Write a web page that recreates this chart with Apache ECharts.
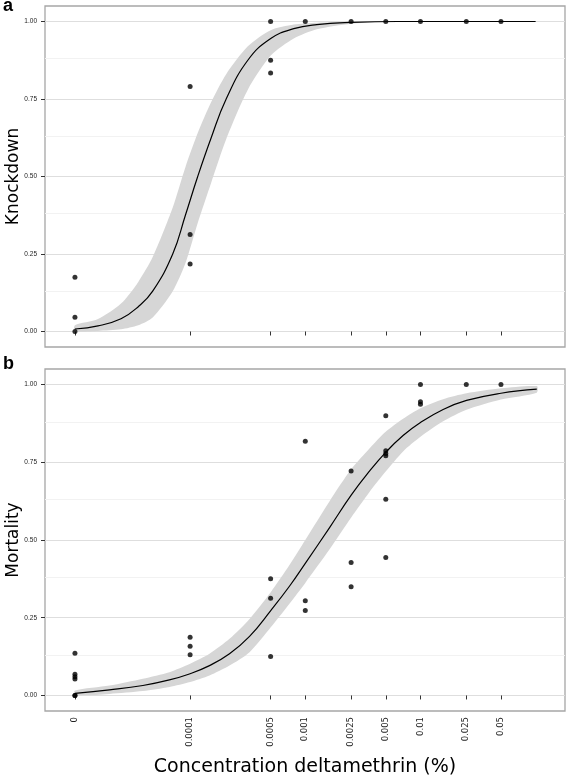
<!DOCTYPE html>
<html>
<head>
<meta charset="utf-8">
<script src="https://cdn.jsdelivr.net/npm/echarts@6/dist/echarts.min.js"></script>
<style>html,body{margin:0;padding:0;background:#fff}#c{width:567px;height:778px}</style>
</head>
<body>
<div id="c"></div>
<script>
// ---------- data ----------
const concLevels = [0, 0.0001, 0.0005, 0.001, 0.0025, 0.005, 0.01, 0.025, 0.05];
const concLabels = ['0', '0.0001', '0.0005', '0.001', '0.0025', '0.005', '0.01', '0.025', '0.05'];
const yTicks = [0, 0.25, 0.5, 0.75, 1];
const yMinorTicks = [0.125, 0.375, 0.625, 0.875];

// panel a: knockdown observations
const kdConc  = [0, 0, 0, 0.0001, 0.0001, 0.0001, 0.0005, 0.0005, 0.0005, 0.001, 0.0025, 0.005, 0.01, 0.025, 0.05];
const kdValue = [0.175, 0.046, 0, 0.79, 0.313, 0.218, 1.0, 0.875, 0.834, 1, 1, 1, 1, 1, 1];

// panel a: fitted curve (log10 concentration) and confidence band
const kdFitLogConc = [-5.0, -4.8, -4.6, -4.45, -4.325, -4.151, -4.041, -3.934, -3.817, -3.687, -3.499, -3.3, -3.1, -2.9, -2.6, -2.2, -1.0];
const kdFit   = [0.008, 0.018, 0.041, 0.080, 0.13, 0.25, 0.375, 0.5, 0.625, 0.75, 0.875, 0.945, 0.977, 0.99, 0.997, 1.0, 1.0];
const kdLower = [0.001, 0.002, 0.007, 0.02, 0.045, 0.13, 0.22, 0.35, 0.48, 0.62, 0.78, 0.89, 0.945, 0.975, 0.993, 0.999, 1.0];
const kdUpper = [0.02, 0.04, 0.09, 0.16, 0.24, 0.40, 0.53, 0.64, 0.74, 0.83, 0.92, 0.972, 0.99, 0.996, 0.999, 1.0, 1.0];

// panel b: mortality observations
const mConc  = [0, 0, 0, 0, 0, 0,
                0.0001, 0.0001, 0.0001,
                0.0005, 0.0005, 0.0005,
                0.001, 0.001, 0.001,
                0.0025, 0.0025, 0.0025,
                0.005, 0.005, 0.005, 0.005, 0.005, 0.005,
                0.01, 0.01, 0.01, 0.025, 0.05];
const mValue = [0.136, 0.068, 0.06, 0.053, 0, 0,
                0.187, 0.158, 0.131,
                0.375, 0.313, 0.125,
                0.818, 0.305, 0.273,
                0.722, 0.428, 0.35,
                0.9, 0.787, 0.778, 0.771, 0.631, 0.444,
                1.0, 0.945, 0.937, 1.0, 1.0];

// panel b: fitted curve and confidence band
const mFitLogConc = [-5.0, -4.7, -4.41, -4.18, -4.0, -3.832, -3.658, -3.484, -3.3, -3.136, -3.0, -2.789, -2.6, -2.441, -2.302, -2.151, -2.0, -1.803, -1.6, -1.301, -0.99];
const mFit   = [0.007, 0.018, 0.032, 0.05, 0.07, 0.096, 0.134, 0.19, 0.273, 0.352, 0.425, 0.54, 0.645, 0.722, 0.782, 0.836, 0.878, 0.92, 0.949, 0.972, 0.985];
const mLower = [0.001, 0.005, 0.014, 0.027, 0.043, 0.064, 0.096, 0.139, 0.219, 0.296, 0.362, 0.47, 0.573, 0.655, 0.72, 0.785, 0.832, 0.882, 0.919, 0.952, 0.974];
const mUpper = [0.016, 0.032, 0.054, 0.075, 0.102, 0.134, 0.182, 0.246, 0.332, 0.42, 0.50, 0.625, 0.728, 0.795, 0.848, 0.89, 0.924, 0.953, 0.972, 0.988, 0.995];

// ---------- helpers ----------
const ZERO_LOG = -5; // where concentration 0 sits on the log10 axis
const toLog = c => (c === 0 ? ZERO_LOG : Math.log10(c));
const tickPos = concLevels.map(toLog);
const xLabelFor = v => {
  for (let i = 0; i < tickPos.length; i++) if (Math.abs(tickPos[i] - v) < 1e-6) return concLabels[i];
  return '';
};
const pairs = (xs, ys) => xs.map((x, i) => [x, ys[i]]);

const XMIN = -5.26, XMAX = -0.745;
const gridColor = '#dedede', minorColor = '#f2f2f2', bandColor = '#d6d6d6';

function xAxisFor(gi, showLabels) {
  return {
    type: 'value', gridIndex: gi, min: XMIN, max: XMAX,
    axisLine: { show: false },
    splitLine: { show: false },
    axisTick: { show: true, customValues: tickPos, length: 4, lineStyle: { color: '#333', width: 1 } },
    axisLabel: {
      show: showLabels, customValues: tickPos, rotate: 90, margin: 6,
      formatter: v => xLabelFor(v),
      fontFamily: 'DejaVu Sans', fontSize: 8.5, color: '#222'
    },
    name: showLabels ? 'Concentration deltamethrin (%)' : '',
    nameLocation: 'middle', nameGap: 47, nameMoveOverlap: false,
    nameTextStyle: { fontFamily: 'DejaVu Sans', fontSize: 19, color: '#000' }
  };
}
function yAxisFor(gi, title) {
  return {
    type: 'value', gridIndex: gi, min: -0.05, max: 1.05,
    axisLine: { show: false },
    splitLine: { show: false },
    axisTick: { show: true, customValues: yTicks, length: 4, lineStyle: { color: '#333', width: 1 } },
    axisLabel: {
      customValues: yTicks, margin: 8,
      formatter: v => v.toFixed(2),
      fontFamily: 'Liberation Sans', fontSize: 6.5, color: '#222'
    },
    name: title, nameLocation: 'middle', nameGap: 23, nameMoveOverlap: false,
    nameTextStyle: { fontFamily: 'DejaVu Sans', fontSize: 17, color: '#000' }
  };
}
function gridLinesSeries(gi) {
  const data = yMinorTicks.map(v => ({ yAxis: v, lineStyle: { color: minorColor, width: 1, type: 'solid' } }))
    .concat(yTicks.map(v => ({ yAxis: v, lineStyle: { color: gridColor, width: 1, type: 'solid' } })));
  return {
    type: 'line', xAxisIndex: gi, yAxisIndex: gi, data: [], z: 0, silent: true,
    markLine: { silent: true, symbol: 'none', z: 0, label: { show: false }, animation: false,
      lineStyle: { type: 'solid' }, emphasis: { disabled: true }, data: data }
  };
}
function bandSeries(gi, xs, lo, hi) {
  return {
    type: 'custom', xAxisIndex: gi, yAxisIndex: gi, z: 1, silent: true,
    data: xs.map((x, i) => [x, lo[i], hi[i]]),
    encode: { x: 0, y: [1, 2] },
    renderItem: function (params, api) {
      if (params.dataIndex !== 0) return null;
      const upper = xs.map((x, i) => api.coord([x, hi[i]]));
      const lower = xs.map((x, i) => api.coord([x, lo[i]])).reverse();
      return {
        type: 'polygon',
        shape: { points: upper.concat(lower), smooth: 0.25 },
        style: { fill: bandColor, stroke: null }
      };
    }
  };
}
function fitSeries(gi, xs, ys) {
  return {
    type: 'line', xAxisIndex: gi, yAxisIndex: gi, smooth: 0.45, showSymbol: false,
    data: pairs(xs, ys), lineStyle: { color: '#000', width: 1.2 }, z: 3, silent: true
  };
}
function pointSeries(gi, cs, vs) {
  return {
    type: 'scatter', xAxisIndex: gi, yAxisIndex: gi, symbolSize: 5,
    data: cs.map((c, i) => [toLog(c), vs[i]]),
    itemStyle: { color: '#000' }, z: 4, silent: true
  };
}

const chart = echarts.init(document.getElementById('c'), null, { renderer: 'canvas' });
chart.setOption({
  animation: false,
  backgroundColor: '#fff',
  grid: [
    { left: 45, top: 6, width: 520, height: 341, outerBoundsMode: 'none', containLabel: false,
      show: true, borderColor: '#a6a6a6', borderWidth: 1.3, backgroundColor: '#fff' },
    { left: 45, top: 369, width: 520, height: 342, outerBoundsMode: 'none', containLabel: false,
      show: true, borderColor: '#a6a6a6', borderWidth: 1.3, backgroundColor: '#fff' }
  ],
  xAxis: [xAxisFor(0, false), xAxisFor(1, true)],
  yAxis: [yAxisFor(0, 'Knockdown'), yAxisFor(1, 'Mortality')],
  graphic: [
    { type: 'text', left: 3, top: -3, style: { text: 'a', font: 'bold 18px "Liberation Sans"', fill: '#000' } },
    { type: 'text', left: 3, top: 355, style: { text: 'b', font: 'bold 18px "Liberation Sans"', fill: '#000' } }
  ],
  series: [
    gridLinesSeries(0),
    gridLinesSeries(1),
    bandSeries(0, kdFitLogConc, kdLower, kdUpper),
    bandSeries(1, mFitLogConc, mLower, mUpper),
    fitSeries(0, kdFitLogConc, kdFit),
    fitSeries(1, mFitLogConc, mFit),
    pointSeries(0, kdConc, kdValue),
    pointSeries(1, mConc, mValue)
  ]
});
</script>
</body>
</html>
